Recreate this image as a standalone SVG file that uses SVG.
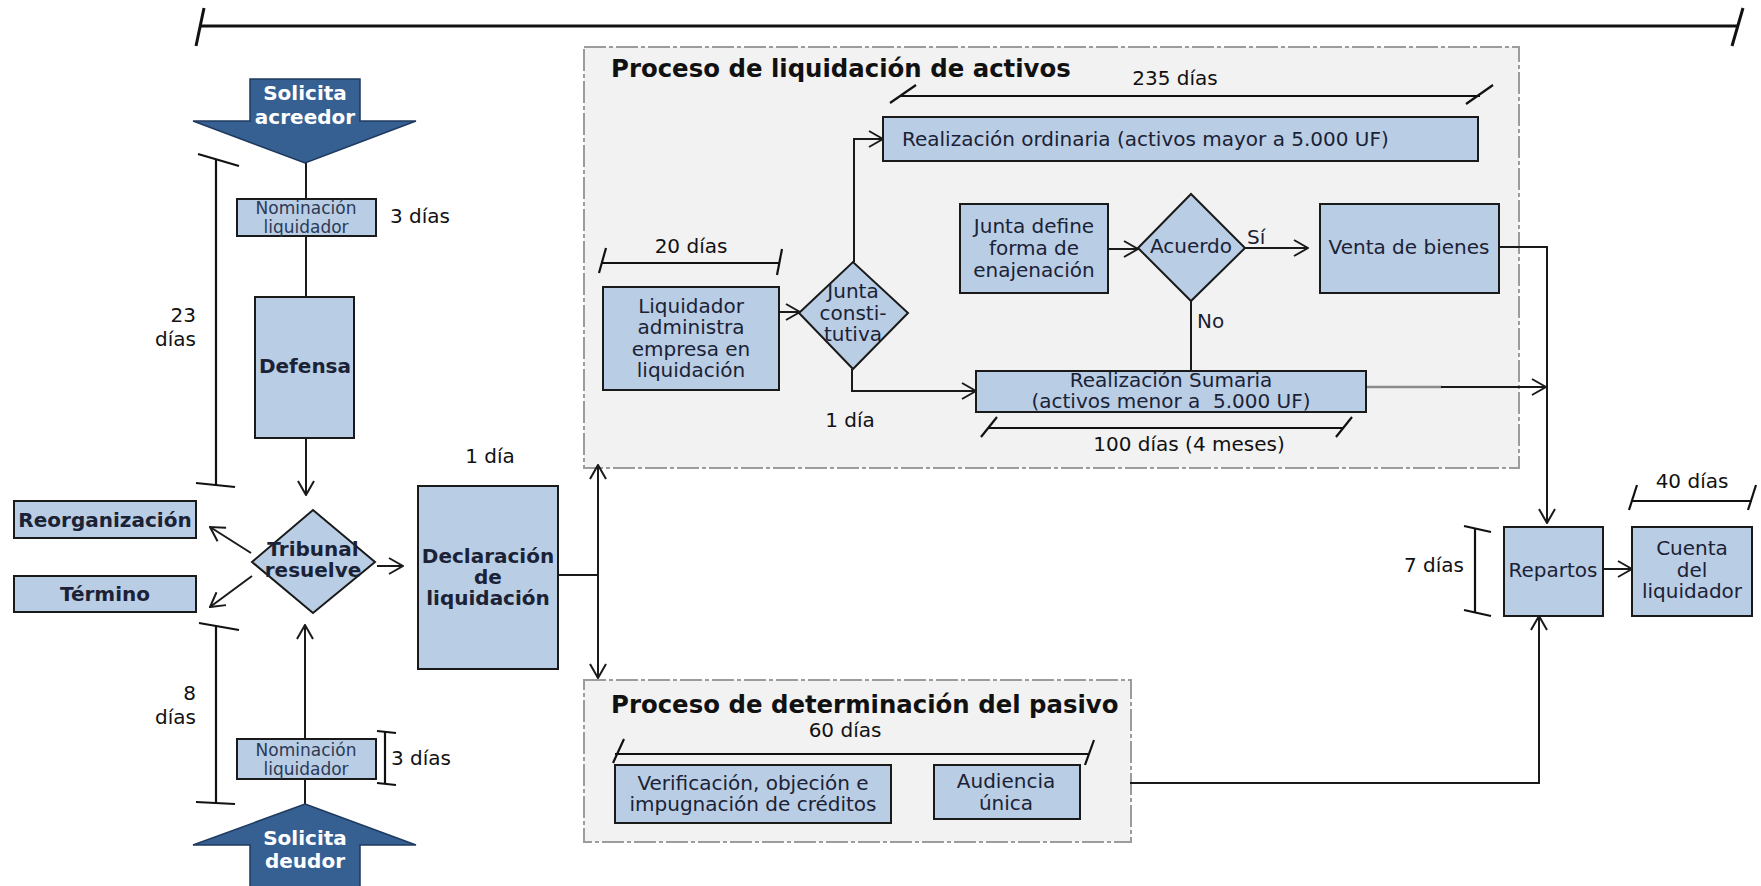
<svg xmlns="http://www.w3.org/2000/svg" width="1761" height="886" viewBox="0 0 1761 886">
<style>
.box{fill:#B9CDE5;stroke:#1a1a1a;stroke-width:2}
.cont{fill:#F2F2F2;stroke:#9C9C9C;stroke-width:2;stroke-dasharray:22 3 4 3}
.ln{fill:none;stroke:#1a1a1a;stroke-width:2}
.br{fill:none;stroke:#111;stroke-width:2.2}
.big{fill:#376092;stroke:#1F3A5F;stroke-width:1.5}
.t{font-family:'DejaVu Sans',Verdana,sans-serif;font-size:20px;fill:#1b2235}
.c{text-anchor:middle}
.e{text-anchor:end}
.b{font-weight:bold}
.w{fill:#fff}
.s{font-size:17px;fill:#2b3a55}
.lb{fill:#111}
.h{font-size:24.4px;font-weight:bold;fill:#111}
</style>
<defs>
<marker id="ah" viewBox="0 0 16 18" refX="15" refY="9" markerWidth="16" markerHeight="18" markerUnits="userSpaceOnUse" orient="auto-start-reverse">
<path d="M1,1 L15,9 L1,17" fill="none" stroke="#1a1a1a" stroke-width="2"/>
</marker>
</defs>

<!-- timeline bar -->
<g id="timeline" class="br">
<line x1="201" y1="26" x2="1737" y2="26" stroke-width="3"/>
<line x1="196" y1="46" x2="204" y2="8" stroke-width="3"/>
<line x1="1732" y1="46" x2="1743" y2="8" stroke-width="3"/>
</g>

<!-- containers -->
<g id="proceso-liquidacion">
<rect class="cont" x="584" y="47" width="935" height="421"/>
<text class="t h" x="611" y="77">Proceso de liquidación de activos</text>
</g>
<g id="proceso-pasivo">
<rect class="cont" x="584" y="680" width="547" height="162"/>
<text class="t h" x="611" y="713">Proceso de determinación del pasivo</text>
</g>

<!-- connectors -->
<g id="connectors">
<line class="ln" x1="306" y1="163" x2="306" y2="199"/>
<line class="ln" x1="306" y1="236" x2="306" y2="297"/>
<line class="ln" x1="306" y1="438" x2="306" y2="495" marker-end="url(#ah)"/>
<line class="ln" x1="305" y1="804" x2="305" y2="779"/>
<line class="ln" x1="305" y1="739" x2="305" y2="625" marker-end="url(#ah)"/>
<line class="ln" x1="251" y1="553" x2="210" y2="527" marker-end="url(#ah)"/>
<line class="ln" x1="252" y1="576" x2="210" y2="607" marker-end="url(#ah)"/>
<line class="ln" x1="377" y1="566" x2="403" y2="566" marker-end="url(#ah)"/>
<line class="ln" x1="558" y1="575" x2="598" y2="575" stroke-width="3"/>
<line class="ln" x1="598" y1="465" x2="598" y2="678" marker-start="url(#ah)" marker-end="url(#ah)"/>
<line class="ln" x1="779" y1="312" x2="800" y2="312" marker-end="url(#ah)"/>
<polyline class="ln" points="854,262 854,139 883,139" marker-end="url(#ah)"/>
<polyline class="ln" points="852,369 852,391 976,391" marker-end="url(#ah)"/>
<line class="ln" x1="1108" y1="249" x2="1138" y2="249" marker-end="url(#ah)"/>
<line class="ln" x1="1245" y1="248" x2="1308" y2="248" marker-end="url(#ah)"/>
<line class="ln" x1="1191" y1="301" x2="1191" y2="371"/>
<polyline class="ln" points="1499,247 1547,247 1547,523" marker-end="url(#ah)"/>
<line x1="1366" y1="387" x2="1442" y2="387" stroke="#8a8a8a" stroke-width="2.5"/>
<line class="ln" x1="1441" y1="387" x2="1546" y2="387" marker-end="url(#ah)"/>
<polyline class="ln" points="1130,783 1539,783 1539,616" stroke="#333" stroke-width="2.5" marker-end="url(#ah)"/>
<line class="ln" x1="1603" y1="569" x2="1632" y2="569" stroke-width="3" marker-end="url(#ah)"/>
<text class="t" x="1247" y="244" font-size="23">Sí</text>
<text class="t" x="1197" y="328" font-size="23">No</text>
</g>

<!-- duration brackets and labels -->
<g id="durations" class="br">
<line x1="216" y1="160" x2="216" y2="485"/>
<line x1="198" y1="154" x2="239" y2="166"/>
<line x1="196" y1="483" x2="235" y2="487"/>
<line x1="216" y1="626" x2="216" y2="803"/>
<line x1="199" y1="623" x2="239" y2="630"/>
<line x1="196" y1="802" x2="235" y2="804"/>
<line x1="385" y1="732" x2="385" y2="784"/>
<line x1="377" y1="731" x2="396" y2="733"/>
<line x1="377" y1="783" x2="396" y2="785"/>
<line x1="1475" y1="528" x2="1475" y2="613"/>
<line x1="1464" y1="526" x2="1491" y2="532"/>
<line x1="1464" y1="610" x2="1491" y2="616"/>
<line x1="601" y1="263" x2="779" y2="263"/>
<line x1="599" y1="273" x2="606" y2="248"/>
<line x1="777" y1="275" x2="782" y2="249"/>
<line x1="901" y1="96" x2="1480" y2="96"/>
<line x1="890" y1="103" x2="916" y2="85"/>
<line x1="1466" y1="104" x2="1493" y2="85"/>
<line x1="989" y1="428" x2="1344" y2="428"/>
<line x1="981" y1="437" x2="997" y2="417"/>
<line x1="1336" y1="437" x2="1352" y2="417"/>
<line x1="615" y1="754" x2="1089" y2="754"/>
<line x1="613" y1="763" x2="624" y2="739"/>
<line x1="1085" y1="765" x2="1094" y2="740"/>
<line x1="1631" y1="501" x2="1752" y2="501"/>
<line x1="1629" y1="510" x2="1637" y2="485"/>
<line x1="1748" y1="510" x2="1756" y2="485"/>
</g>
<g id="duration-labels">
<text class="t lb e" x="196" y="322">23</text>
<text class="t lb e" x="196" y="346">días</text>
<text class="t lb e" x="196" y="700">8</text>
<text class="t lb e" x="196" y="724">días</text>
<text class="t lb" x="390" y="223">3 días</text>
<text class="t lb" x="391" y="765">3 días</text>
<text class="t lb c" x="490" y="463">1 día</text>
<text class="t lb c" x="691" y="253">20 días</text>
<text class="t lb c" x="1175" y="85">235 días</text>
<text class="t lb c" x="850" y="427">1 día</text>
<text class="t lb c" x="1189" y="451">100 días (4 meses)</text>
<text class="t lb c" x="845" y="737">60 días</text>
<text class="t lb e" x="1464" y="572">7 días</text>
<text class="t lb c" x="1692" y="488">40 días</text>
</g>

<!-- nodes -->
<g id="solicita-acreedor">
<polygon class="big" points="250,79 360,79 360,121 416,121 305,163 193,121 250,121"/>
<text class="t b w c" x="305" y="100" font-size="22.5">Solicita</text>
<text class="t b w c" x="305" y="124" font-size="22.5">acreedor</text>
</g>
<g id="nominacion-1">
<rect class="box" x="237" y="199" width="139" height="37"/>
<text class="t s c" x="306" y="214">Nominación</text>
<text class="t s c" x="306" y="233">liquidador</text>
</g>
<g id="defensa">
<rect class="box" x="255" y="297" width="99" height="141"/>
<text class="t b c" x="305" y="373" font-size="19">Defensa</text>
</g>
<g id="tribunal">
<polygon class="box" points="252,562 313,510 375,562 313,613"/>
<text class="t b c" x="313" y="556" font-size="15.5">Tribunal</text>
<text class="t b c" x="313" y="577" font-size="15.5">resuelve</text>
</g>
<g id="reorganizacion">
<rect class="box" x="14" y="501" width="182" height="37"/>
<text class="t b c" x="105" y="527" font-size="18.5">Reorganización</text>
</g>
<g id="termino">
<rect class="box" x="14" y="576" width="182" height="36"/>
<text class="t b c" x="105" y="601" font-size="18.5">Término</text>
</g>
<g id="nominacion-2">
<rect class="box" x="237" y="739" width="139" height="40"/>
<text class="t s c" x="306" y="756">Nominación</text>
<text class="t s c" x="306" y="775">liquidador</text>
</g>
<g id="solicita-deudor">
<polygon class="big" points="305,804 416,845 360,845 360,892 250,892 250,845 193,845"/>
<text class="t b w c" x="305" y="845" font-size="22.5">Solicita</text>
<text class="t b w c" x="305" y="868" font-size="22.5">deudor</text>
</g>
<g id="declaracion">
<rect class="box" x="418" y="486" width="140" height="183"/>
<text class="t b c" x="488" y="563" font-size="18.5">Declaración</text>
<text class="t b c" x="488" y="584" font-size="18.5">de</text>
<text class="t b c" x="488" y="605" font-size="18.5">liquidación</text>
</g>
<g id="liquidador-administra">
<rect class="box" x="603" y="287" width="176" height="103"/>
<text class="t c" x="691" y="313">Liquidador</text>
<text class="t c" x="691" y="334">administra</text>
<text class="t c" x="691" y="356">empresa en</text>
<text class="t c" x="691" y="377">liquidación</text>
</g>
<g id="junta-constitutiva">
<polygon class="box" points="799,313 853,262 908,313 853,369"/>
<text class="t c" x="853" y="298">Junta</text>
<text class="t c" x="853" y="320">consti-</text>
<text class="t c" x="853" y="341">tutiva</text>
</g>
<g id="realizacion-ordinaria">
<rect class="box" x="883" y="117" width="595" height="44"/>
<text class="t" x="902" y="146" font-size="20.5">Realización ordinaria (activos mayor a 5.000 UF)</text>
</g>
<g id="junta-define">
<rect class="box" x="960" y="204" width="148" height="89"/>
<text class="t c" x="1034" y="233">Junta define</text>
<text class="t c" x="1034" y="255">forma de</text>
<text class="t c" x="1034" y="277">enajenación</text>
</g>
<g id="acuerdo">
<polygon class="box" points="1138,248 1191,194 1245,248 1191,301"/>
<text class="t c" x="1191" y="253">Acuerdo</text>
</g>
<g id="venta-bienes">
<rect class="box" x="1320" y="204" width="179" height="89"/>
<text class="t c" x="1409" y="254">Venta de bienes</text>
</g>
<g id="realizacion-sumaria">
<rect class="box" x="976" y="371" width="390" height="41"/>
<text class="t c" x="1171" y="387">Realización Sumaria</text>
<text class="t c" x="1171" y="408" xml:space="preserve">(activos menor a  5.000 UF)</text>
</g>
<g id="verificacion">
<rect class="box" x="615" y="765" width="276" height="58"/>
<text class="t c" x="753" y="790">Verificación, objeción e</text>
<text class="t c" x="753" y="811">impugnación de créditos</text>
</g>
<g id="audiencia">
<rect class="box" x="934" y="765" width="146" height="54"/>
<text class="t c" x="1006" y="788">Audiencia</text>
<text class="t c" x="1006" y="810">única</text>
</g>
<g id="repartos">
<rect class="box" x="1504" y="527" width="99" height="89"/>
<text class="t c" x="1553" y="577">Repartos</text>
</g>
<g id="cuenta-liquidador">
<rect class="box" x="1632" y="527" width="120" height="89"/>
<text class="t c" x="1692" y="555">Cuenta</text>
<text class="t c" x="1692" y="577">del</text>
<text class="t c" x="1692" y="598">liquidador</text>
</g>
</svg>
